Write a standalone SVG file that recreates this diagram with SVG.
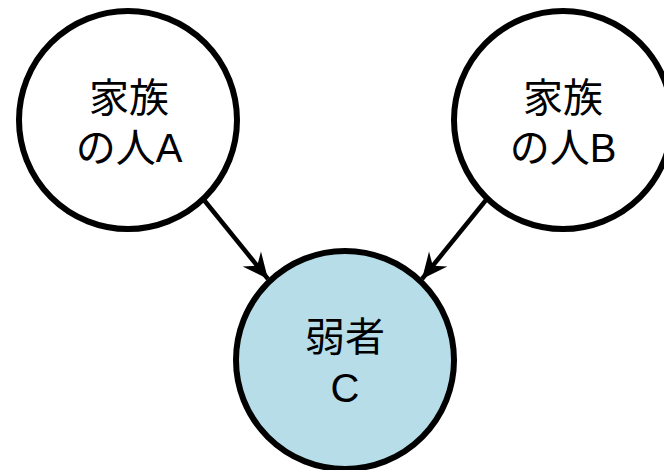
<svg xmlns="http://www.w3.org/2000/svg" width="664" height="470" viewBox="0 0 664 470">
<style>
.node{stroke:#000;stroke-width:6;fill:#fff}
.weak{fill:#b7dee8}
.lbl{font-family:"Liberation Sans","Noto Sans CJK JP",sans-serif;font-size:40px;text-anchor:middle;fill:#000}
.edge{stroke:#000;stroke-width:4.5;fill:none}
</style>
<defs>
<marker id="arr" markerUnits="userSpaceOnUse" markerWidth="30" markerHeight="30" viewBox="-26 -13 28 26" refX="0" refY="0" orient="auto">
<path d="M0,0 L-24,-11 L-16,0 L-24,11 Z" fill="#000"/>
</marker>
</defs>
<rect width="664" height="470" fill="#fff"/>
<g id="connectors">
<line class="edge" x1="204" y1="200" x2="268" y2="279" marker-end="url(#arr)"/>
<line class="edge" x1="486" y1="200" x2="422" y2="279" marker-end="url(#arr)"/>
</g>
<g id="nodeA">
<circle class="node" cx="128" cy="120" r="109"/>
<text class="lbl" x="129" y="112">家族</text>
<text class="lbl" x="129" y="162">の人A</text>
</g>
<g id="nodeB">
<circle class="node" cx="563" cy="120" r="109"/>
<text class="lbl" x="563" y="112">家族</text>
<text class="lbl" x="563" y="162">の人B</text>
</g>
<g id="nodeC">
<circle class="node weak" cx="345" cy="360" r="109"/>
<text class="lbl" x="345" y="351">弱者</text>
<text class="lbl" x="345" y="402">C</text>
</g>
</svg>
